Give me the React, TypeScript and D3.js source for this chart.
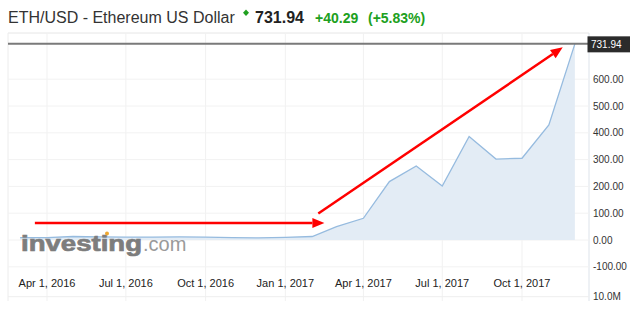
import React from "react";
import * as d3 from "d3";

const months = [
  "2016-03-01","2016-04-01","2016-05-01","2016-06-01","2016-07-01","2016-08-01",
  "2016-09-01","2016-10-01","2016-11-01","2016-12-01","2017-01-01","2017-02-01",
  "2017-03-01","2017-04-01","2017-05-01","2017-06-01","2017-07-01","2017-08-01",
  "2017-09-01","2017-10-01","2017-11-01","2017-12-01",
];
const prices = [9, 9, 13, 12, 11, 11, 12, 11, 9, 8, 10, 13, 50, 81, 218, 276, 201, 386, 302, 305, 429, 731.94];

const xTickDates = ["2016-04-01","2016-07-01","2016-10-01","2017-01-01","2017-04-01","2017-07-01","2017-10-01"];
const xTickLabels = ["Apr 1, 2016","Jul 1, 2016","Oct 1, 2016","Jan 1, 2017","Apr 1, 2017","Jul 1, 2017","Oct 1, 2017"];
const yTicks = [600, 500, 400, 300, 200, 100, 0, -100];

// annotation arrows (start date/value -> end date/value)
const arrowStarts = [["2016-03-18", 63], ["2017-02-08", 99]];
const arrowEnds = [["2017-02-15", 63], ["2017-11-17", 719]];

const lastPrice = 731.94;

const W = 640, H = 323;
const parse = d3.timeParse("%Y-%m-%d");

export default function App() {
  const x = d3.scaleTime()
    .domain([parse("2016-04-01")!, parse("2017-10-01")!])
    .range([47, 522]);
  const y = d3.scaleLinear().domain([0, 700]).range([240, 52.4]);

  const data = months.map((m, i) => ({ d: parse(m)!, v: prices[i] }));
  const line = d3.line<any>().x((p) => x(p.d)).y((p) => y(p.v));
  const area = d3.area<any>().x((p) => x(p.d)).y0(y(0)).y1((p) => y(p.v));

  const left = 8, right = 589, top = 33, bottom = 301;
  const volLine = 296.7;

  const arrows = arrowStarts.map((s, i) => {
    const x1 = x(parse(s[0] as string)!), y1 = y(s[1] as number);
    const x2 = x(parse(arrowEnds[i][0] as string)!), y2 = y(arrowEnds[i][1] as number);
    const ang = Math.atan2(y2 - y1, x2 - x1);
    const L = 12, Wd = 5;
    const bx = x2 - L * Math.cos(ang), by = y2 - L * Math.sin(ang);
    const px = -Math.sin(ang) * Wd, py = Math.cos(ang) * Wd;
    return { x1, y1, bx, by, x2, y2, head: `${x2},${y2} ${bx + px},${by + py} ${bx - px},${by - py}` };
  });

  const font = "'Liberation Sans', Arial, sans-serif";

  return (
    <svg width={W} height={H} style={{ position: "absolute", left: 0, top: 0, background: "#fff" }} fontFamily={font}>
      {/* title */}
      <text x={8} y={23} fontSize={16} fill="#333">ETH/USD - Ethereum US Dollar</text>
      <path d="M246,9.5 L249,12.7 L246,15.9 L243,12.7 Z" fill="#20a020" />
      <text x={255} y={23} fontSize={16} fontWeight="bold" fill="#222">{lastPrice.toFixed(2)}</text>
      <text x={315} y={23} fontSize={14} fontWeight="bold" fill="#20a020">+40.29</text>
      <text x={368} y={23} fontSize={14} fontWeight="bold" fill="#20a020">(+5.83%)</text>

      {/* frame */}
      <line x1={left} x2={right} y1={top} y2={top} stroke="#e6e6e6" />
      <line x1={left} x2={left} y1={top} y2={bottom} stroke="#ececec" />
      <line x1={right} x2={right} y1={top} y2={bottom} stroke="#dde3ea" />

      {/* grid */}
      {xTickDates.map((t) => (
        <line key={t} x1={x(parse(t)!)} x2={x(parse(t)!)} y1={top} y2={bottom} stroke="#f1f1f1" />
      ))}
      {yTicks.map((t) => (
        <line key={t} x1={left} x2={right} y1={y(t)} y2={y(t)} stroke="#f2f2f2" />
      ))}
      <line x1={left} x2={right} y1={volLine} y2={volLine} stroke="#eeeeee" />

      {/* area + line */}
      <path d={area(data)!} fill="#e3ecf5" />
      <path d={line(data)!} fill="none" stroke="#96bbdf" strokeWidth={1.3} />

      {/* logo */}
      <text x={21} y={251} fontSize={22} fontWeight="bold" fill="#7d7d7d" stroke="#7d7d7d" strokeWidth={0.7} textLength={121} lengthAdjust="spacingAndGlyphs">investing</text>
      <text x={143} y={251} fontSize={20} fill="#9a9a9a">.com</text>
      <circle cx={107} cy={233.5} r={2} fill="#f0a830" />

      {/* last price line + label */}
      <line x1={left} x2={right - 1} y1={y(lastPrice)} y2={y(lastPrice)} stroke="#7a7a7a" strokeWidth={2} />
      <rect x={587.5} y={y(lastPrice) - 7.5} width={42.5} height={16} fill="#2b2b2b" />
      <text x={591} y={y(lastPrice) + 4} fontSize={10} fill="#fff">{lastPrice.toFixed(2)}</text>

      {/* y axis labels */}
      {yTicks.map((t) => (
        <text key={t} x={593} y={y(t) + 3.5} fontSize={10} fill="#333">{t.toFixed(2)}</text>
      ))}
      <text x={593} y={volLine + 3.5} fontSize={10} fill="#333">10.0M</text>

      {/* x axis labels */}
      {xTickDates.map((t, i) => (
        <text key={t} x={x(parse(t)!)} y={287} fontSize={11} fill="#222" textAnchor="middle">{xTickLabels[i]}</text>
      ))}

      {/* red arrows */}
      {arrows.map((a, i) => (
        <g key={i}>
          <line x1={a.x1} y1={a.y1} x2={a.bx} y2={a.by} stroke="#ff0000" strokeWidth={2.5} />
          <polygon points={a.head} fill="#ff0000" />
        </g>
      ))}
    </svg>
  );
}
